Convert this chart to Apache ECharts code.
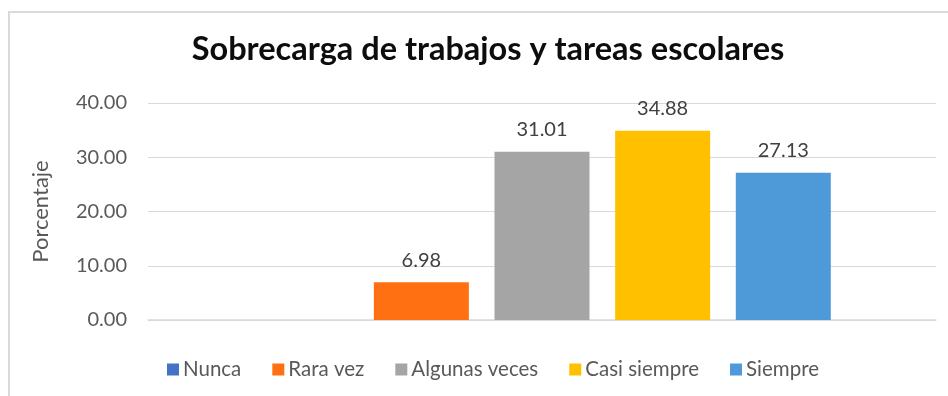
<!DOCTYPE html>
<html>
<head>
<meta charset="utf-8">
<script src="https://cdn.jsdelivr.net/npm/echarts@6/dist/echarts.min.js"></script>
<style>
  html, body { margin: 0; padding: 0; background: #fff; }
  #chart { width: 948px; height: 396px; }
</style>
</head>
<body>
<div id="chart"></div>
<script>
// Response categories (one bar each) and their percentages
const seriesNames = ['Nunca', 'Rara vez', 'Algunas veces', 'Casi siempre', 'Siempre'];
const seriesValues = [0, 6.98, 31.01, 34.88, 27.13];
const seriesColors = ['#4472C4', '#FF7012', '#A5A5A5', '#FFC000', '#4E99D8'];
const yTicks = [0, 10, 20, 30, 40];

const FONT = 'Lato, "Open Sans", sans-serif';

const chart = echarts.init(document.getElementById('chart'), null, { renderer: 'canvas' });

const series = seriesNames.map((name, i) => ({
  name: name,
  type: 'bar',
  data: [seriesValues[i]],
  barWidth: 95,
  barGap: '27%',
  itemStyle: { color: seriesColors[i] },
  label: {
    show: seriesValues[i] !== 0,
    position: 'top',
    distance: 12,
    formatter: p => p.value.toFixed(2),
    fontFamily: FONT,
    fontSize: 20,
    color: '#404040'
  }
}));

chart.setOption({
  animation: false,
  backgroundColor: '#ffffff',
  graphic: [{
    type: 'rect',
    shape: { x: 9, y: 12, width: 1200, height: 1200 },
    style: { fill: 'none', stroke: '#D9D9D9', lineWidth: 2 },
    silent: true
  }],
  title: {
    text: 'Sobrecarga de trabajos y tareas escolares',
    left: 483,
    top: 28,
    textAlign: 'center',
    textStyle: { fontFamily: FONT, fontWeight: 'bold', fontSize: 32.5, color: '#0D0D0D' }
  },
  legend: {
    data: seriesNames,
    left: 162,
    top: 354,
    itemWidth: 12,
    itemHeight: 12,
    itemGap: 31,
    icon: 'rect',
    textStyle: { fontFamily: FONT, fontSize: 20.5, color: '#595959', padding: [0, 0, 0, -1] }
  },
  grid: { left: 148, right: 12, top: 103, bottom: 76, containLabel: false },
  xAxis: {
    type: 'category',
    data: [''],
    axisLine: { lineStyle: { color: '#D9D9D9', width: 1.5 } },
    axisTick: { show: false },
    axisLabel: { show: false }
  },
  yAxis: {
    type: 'value',
    min: yTicks[0],
    max: yTicks[yTicks.length - 1],
    interval: 10,
    name: 'Porcentaje',
    nameLocation: 'middle',
    nameRotate: 90,
    nameGap: 96,
    nameTextStyle: { fontFamily: FONT, fontSize: 22, color: '#595959' },
    axisLine: { show: false },
    axisTick: { show: false },
    axisLabel: {
      formatter: v => v.toFixed(2),
      fontFamily: FONT,
      fontSize: 20,
      color: '#595959',
      margin: 21
    },
    splitLine: { lineStyle: { color: '#D9D9D9', width: 1 } }
  },
  series: series
});
</script>
</body>
</html>
